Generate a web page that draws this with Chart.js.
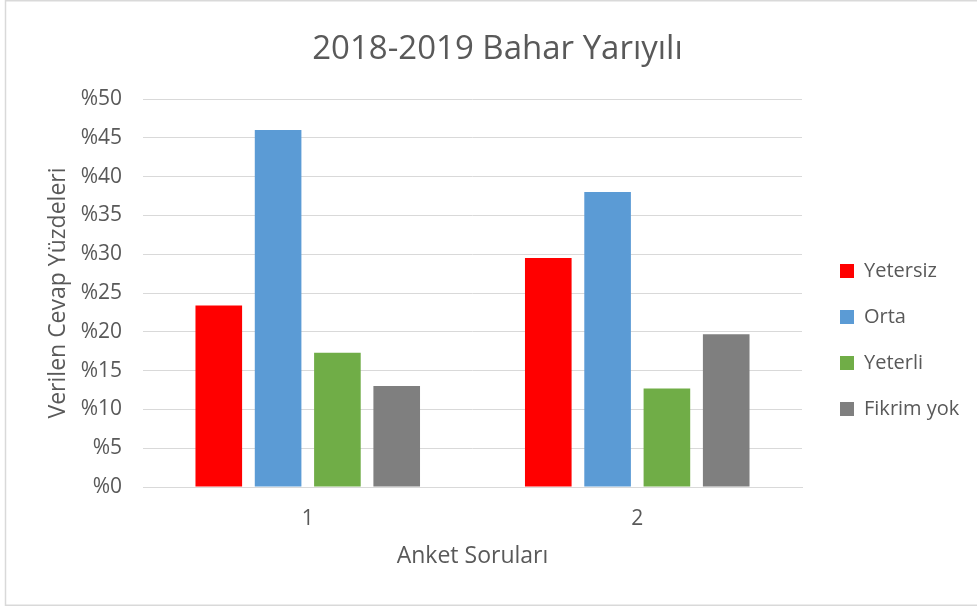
<!DOCTYPE html>
<html>
<head>
<meta charset="utf-8">
<script src="https://cdn.jsdelivr.net/npm/chart.js@4/dist/chart.umd.min.js"></script>
<style>
  html, body { margin: 0; padding: 0; background: #ffffff; }
  #wrap { position: relative; width: 977px; height: 608px; }
</style>
</head>
<body>
<div id="wrap"><canvas id="c" width="977" height="608"></canvas></div>
<script>
const categories = ['1', '2'];
const seriesNames = ['Yetersiz', 'Orta', 'Yeterli', 'Fikrim yok'];
const yetersiz = [23.4, 29.5];
const orta = [46.0, 38.0];
const yeterli = [17.3, 12.7];
const fikrimYok = [13.0, 19.7];
const tickPrefix = '%';
const chartTitle = '2018-2019 Bahar Yarıyılı';
const xTitle = 'Anket Soruları';
const yTitle = 'Verilen Cevap Yüzdeleri';

const colors = ['#FF0000', '#5B9BD5', '#70AD47', '#7F7F7F'];
const textColor = '#595959';
const gridColor = '#D9D9D9';
const FONT = "'Open Sans', sans-serif";

const seriesValues = [yetersiz, orta, yeterli, fikrimYok];

const frame = {
  id: 'frame',
  beforeDraw(chart) {
    const ctx = chart.ctx;
    ctx.save();
    ctx.fillStyle = '#ffffff';
    ctx.fillRect(0, 0, chart.width, chart.height);
    ctx.strokeStyle = gridColor;
    ctx.lineWidth = 1.5;
    ctx.strokeRect(5.5, 0.75, 985, 604.5);
    ctx.restore();
  }
};

const legendFix = {
  id: 'legendFix',
  afterInit(chart) {
    const lg = chart.legend;
    const f = lg.fit;
    lg.fit = function () { f.call(this); this.width = 175; };
  },
  afterLayout(chart) {
    const lg = chart.legend;
    lg.left = 814; lg.right = 977;
    lg.top = 100; lg.bottom = 580;
    if (chart.titleBlock) { chart.titleBlock.left = 18; chart.titleBlock.right = 977; }
  }
};

new Chart(document.getElementById('c'), {
  type: 'bar',
  data: {
    labels: categories,
    datasets: seriesNames.map((n, i) => ({
      label: n,
      data: seriesValues[i],
      backgroundColor: colors[i],
      borderWidth: 0,
      categoryPercentage: 0.72,
      barPercentage: 0.786
    }))
  },
  options: {
    responsive: false,
    animation: false,
    layout: { padding: 0 },
    plugins: {
      title: {
        display: true,
        text: chartTitle,
        color: textColor,
        font: { family: FONT, size: 33, weight: '400' },
        padding: { top: 29.5, bottom: 29.9 }
      },
      legend: {
        display: true,
        position: 'right',
        labels: {
          color: textColor,
          font: { family: FONT, size: 20 },
          boxWidth: 14,
          boxHeight: 14,
          padding: 26
        }
      },
      tooltip: { enabled: false }
    },
    scales: {
      x: {
        grid: { display: false, drawTicks: false },
        border: { display: true, color: gridColor, width: 1 },
        ticks: { color: textColor, font: { family: FONT, size: 21 }, padding: 19 },
        title: {
          display: true, text: xTitle, color: textColor,
          font: { family: FONT, size: 23 }, padding: { top: 0, bottom: 38 }
        },
        afterFit(s) { s.height = 121; }
      },
      y: {
        min: 0, max: 50,
        ticks: {
          stepSize: 5, color: textColor, font: { family: FONT, size: 21 }, padding: 21,
          callback: v => tickPrefix + v
        },
        grid: { color: gridColor, lineWidth: 1, drawTicks: false },
        border: { display: false },
        title: {
          display: true, text: yTitle, color: textColor,
          font: { family: FONT, size: 23 }, padding: { top: 45, bottom: 0 }
        },
        afterFit(s) { s.width = 143; }
      }
    }
  },
  plugins: [frame, legendFix]
});
</script>
</body>
</html>
